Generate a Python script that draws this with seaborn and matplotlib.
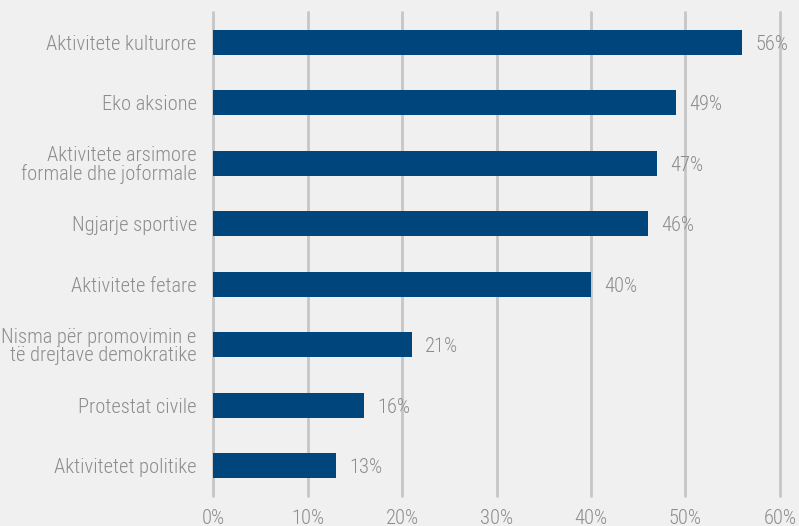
import matplotlib
matplotlib.use("Agg")
import matplotlib.pyplot as plt
import seaborn as sns
import pandas as pd
from matplotlib import font_manager

categories = [
    "Aktivitete kulturore",
    "Eko aksione",
    "Aktivitete arsimore\nformale dhe joformale",
    "Ngjarje sportive",
    "Aktivitete fetare",
    "Nisma për promovimin e\ntë drejtave demokratike",
    "Protestat civile",
    "Aktivitetet politike",
]
values = [56, 49, 47, 46, 40, 21, 16, 13]
xticks = [0, 10, 20, 30, 40, 50, 60]

sns.set_theme(style="white")
names = {f.name for f in font_manager.fontManager.ttflist}
condensed = [f for f in ["Roboto Condensed", "Liberation Sans Narrow", "Open Sans Condensed"] if f in names]
if condensed:
    fam = condensed[:1]
    fs = 14.8
else:
    fam = [f for f in ["Roboto", "Lato", "DejaVu Sans"] if f in names][:1]
    fs = 12.8
plt.rcParams["font.family"] = fam + ["DejaVu Sans"]
plt.rcParams["font.weight"] = "light"

bg = "#f0f0f0"
txt = "#8c8c8c"
df = pd.DataFrame({"cat": categories, "val": values})

fig = plt.figure(figsize=(7.99, 5.26), dpi=100, facecolor=bg)
ax = fig.add_axes([0.267, 0.057, 0.709, 0.920], facecolor=bg)
sns.barplot(data=df, x="val", y="cat", color="#00457c", width=0.41,
            saturation=1, ax=ax, zorder=3, linewidth=0, edgecolor="none")
ax.set_xlim(0, 60)
ax.set_ylim(7.5, -0.5)
ax.set_xticks(xticks)
ax.set_xticklabels([f"{t}%" for t in xticks])
ax.xaxis.grid(True, color="#c6c6c6", linewidth=2, zorder=0)
for gl in ax.get_xgridlines():
    gl.set_clip_on(False)
ax.set_axisbelow(True)
for s in ax.spines.values():
    s.set_visible(False)
ax.tick_params(axis="both", length=0, colors=txt, labelsize=fs)
ax.tick_params(axis="y", pad=12)
ax.tick_params(axis="x", pad=9)
for lab in ax.get_yticklabels() + ax.get_xticklabels():
    lab.set_linespacing(0.95)
    lab.set_fontweight("light")
ax.set_xlabel("")
ax.set_ylabel("")
for i, v in enumerate(values):
    ax.text(v + 1.4, i + 0.03, f"{v}%", va="center", ha="left", color=txt,
            fontsize=fs, fontweight="light")

fig.savefig("out.png", dpi=100, facecolor=bg)
